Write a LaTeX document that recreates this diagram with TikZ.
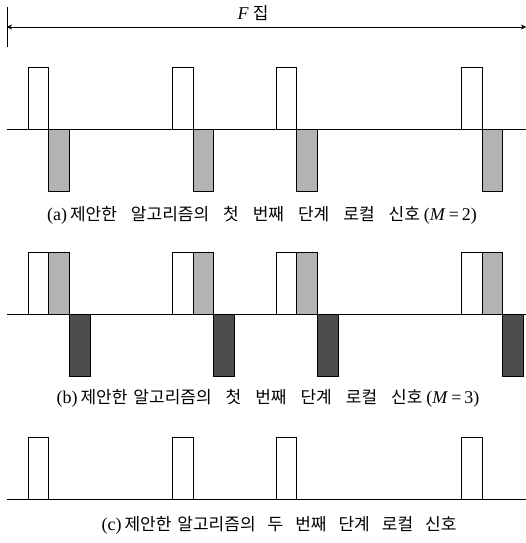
\documentclass[tikz,border=0pt]{standalone}
\usepackage{fontspec}
\setmainfont{Liberation Serif}
\newfontfamily\kr{Noto Sans CJK KR}
\usetikzlibrary{arrows.meta}
\definecolor{lightg}{HTML}{B3B3B3}
\definecolor{darkg}{HTML}{4D4D4D}
\newcommand\krs[1]{{\fontsize{17}{19}\selectfont\kr #1}}
\newcommand\gp{\hspace{14pt}}
\begin{document}
\begin{tikzpicture}[x=1pt,y=-1pt,
  axis/.style={line width=0.8pt},
  pulse/.style={draw=black,line width=0.6pt},
  captext/.style={font=\fontsize{18}{20}\selectfont, anchor=center, inner sep=0pt}]
\useasboundingbox (0,0) rectangle (526,543);
% F arrow
\coordinate (tickTop) at (7,7);
\coordinate (tickBot) at (7,47);
\coordinate (arrL) at (7,27);
\coordinate (arrR) at (526,27);
\draw[line width=0.6pt] (tickTop) -- (tickBot);
\draw[line width=0.6pt, {Stealth[length=5pt,width=5pt]}-{Stealth[length=5pt,width=5pt]}] (arrL) -- (arrR);
\node[captext] (Flab) at (253,13) {\textit{F}\hspace{4pt}\krs{집}};
% axes
\coordinate (aL) at (7,129); \coordinate (aR) at (526,129);
\coordinate (bL) at (7,314); \coordinate (bR) at (526,314);
\coordinate (cL) at (7,499); \coordinate (cR) at (526,499);
\def\w{20.7}
\foreach \x in {28,172.3,276,461.3}{
  % row a
  \draw[pulse,fill=white] (\x,67) rectangle (\x+\w,129);
  \draw[pulse,fill=lightg] (\x+\w,129) rectangle (\x+2*\w,191);
  % row b
  \draw[pulse,fill=white] (\x,252) rectangle (\x+\w,314);
  \draw[pulse,fill=lightg] (\x+\w,252) rectangle (\x+2*\w,314);
  \draw[pulse,fill=darkg] (\x+2*\w,314) rectangle (\x+3*\w,376);
  % row c
  \draw[pulse,fill=white] (\x,437) rectangle (\x+\w,499);
}
\draw[axis] (aL) -- (aR);
\draw[axis] (bL) -- (bR);
\draw[axis] (cL) -- (cR);
\node[captext] (capA) at (262,215) {(a)\hspace{3pt}\krs{제안한\gp 알고리즘의\gp 첫\gp 번째\gp 단계\gp 로컬\gp 신호}\hspace{4pt}(\textit{M}\hspace{3pt}=\hspace{3pt}2)};
\node[captext] (capB) at (268,398) {(b)\hspace{3pt}\krs{제안한\hspace{6pt}알고리즘의\gp 첫\gp 번째\gp 단계\gp 로컬\gp 신호}\hspace{4pt}(\textit{M}\hspace{3pt}=\hspace{3pt}3)};
\node[captext] (capC) at (279,525) {(c)\hspace{3pt}\krs{제안한\hspace{6pt}알고리즘의\hspace{12pt}두\hspace{12pt}번째\hspace{12pt}단계\hspace{12pt}로컬\hspace{12pt}신호}};
\end{tikzpicture}
\end{document}
